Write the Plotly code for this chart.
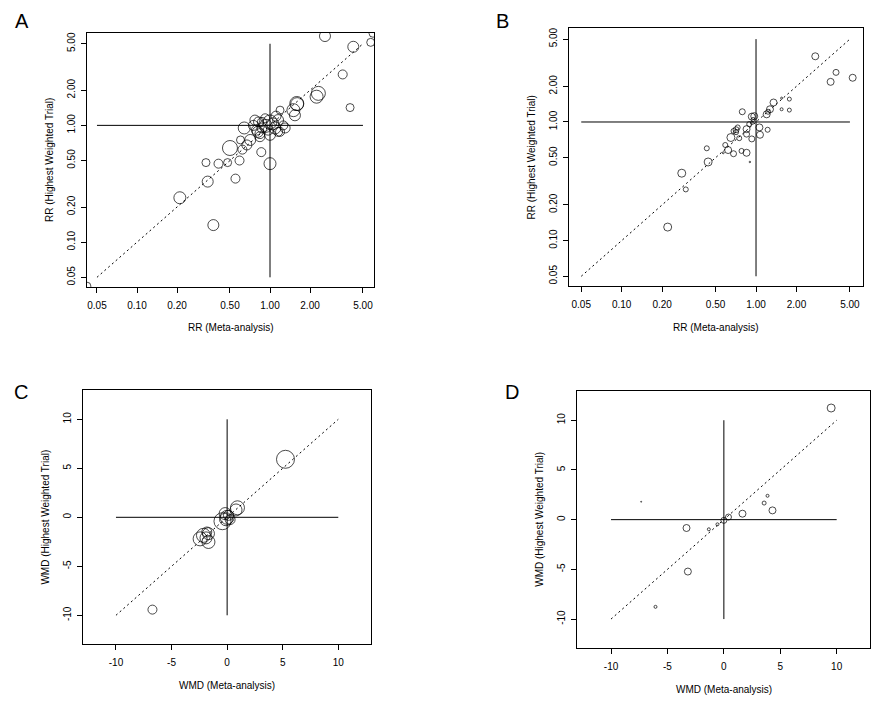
import plotly.graph_objects as go

# ---------------- data ----------------
# Panel A: RR (meta-analysis) vs RR (highest weighted trial)
a_x = [2.59, 4.23, 5.72, 5.95, 3.52, 2.31, 2.24, 4.0, 1.59, 1.50, 1.54, 1.60, 1.19, 1.26, 1.15,
       0.64, 0.75, 0.82, 0.77, 0.60, 0.71, 0.67, 0.62, 0.50, 0.84, 0.84, 0.79, 0.86, 1.0, 0.59,
       0.48, 0.41, 0.33, 0.34, 0.55, 0.21, 0.375, 0.042,
       1.0, 1.05, 0.93, 1.09, 0.97, 1.15, 0.87, 1.19, 1.0, 1.30, 0.92, 0.81, 1.11, 0.87]
a_y = [5.82, 4.71, 5.14, 6.15, 2.73, 1.88, 1.76, 1.42, 1.54, 1.35, 1.22, 1.52, 1.35, 1.0, 0.88,
       0.95, 1.0, 1.07, 1.11, 0.75, 0.75, 0.68, 0.62, 0.64, 0.85, 0.80, 0.91, 0.59, 0.47, 0.50,
       0.48, 0.47, 0.48, 0.33, 0.35, 0.24, 0.14, 0.042,
       1.07, 1.03, 0.99, 0.95, 0.91, 1.11, 0.95, 0.88, 0.83, 0.95, 1.15, 0.88, 1.20, 1.07]
a_w = [11, 11, 8, 8, 9, 14, 13, 8, 14, 13, 11, 13, 8, 9, 9,
       12, 10, 10, 10, 8, 11, 10, 9, 15, 10, 10, 10, 9, 12, 9,
       8, 9, 8, 11, 9, 12, 11, 8,
       14, 12, 13, 12, 10, 11, 10, 9, 11, 10, 9, 11, 10, 9]

# Panel B
b_x = [2.76, 3.94, 3.59, 5.24, 1.35, 1.77, 1.55, 1.55, 1.77, 1.27, 1.20, 1.23, 0.79, 0.93, 0.89,
       0.85, 1.06, 1.07, 1.22, 0.93, 0.85, 0.73, 0.68, 0.71, 0.65, 0.75, 0.59, 0.62, 0.57, 0.68,
       0.78, 0.85, 0.90, 0.43, 0.44, 0.28, 0.30, 0.22, 0.95, 0.93, 0.71, 0.97]
b_y = [3.58, 2.62, 2.18, 2.36, 1.46, 1.56, 1.59, 1.28, 1.26, 1.28, 1.16, 1.22, 1.22, 1.11, 0.96,
       0.87, 0.90, 0.78, 0.86, 0.72, 0.79, 0.90, 0.84, 0.82, 0.74, 0.73, 0.64, 0.58, 0.55, 0.54,
       0.57, 0.55, 0.46, 0.60, 0.46, 0.37, 0.27, 0.13, 1.05, 0.98, 0.86, 1.12]
b_w = [7, 6, 7, 7, 7, 4, 2, 3, 4, 7, 7, 5, 6, 7, 5,
       7, 7, 7, 5, 6, 6, 5, 5, 5, 8, 5, 5, 7, 2, 6,
       5, 7, 1.5, 5, 8, 8, 5, 8, 4, 3, 6, 7]

# Panel C: WMD
c_x = [5.25, 0.93, 0.80, -0.42, 0.0, 0.12, 0.27, -0.18, -0.1, -2.13, -1.68, -1.83, -2.43, -1.68, -1.9, -6.72]
c_y = [5.92, 0.97, 0.75, -0.40, 0.0, 0.2, -0.23, 0.38, -0.2, -1.84, -1.67, -1.5, -2.2, -2.52, -2.1, -9.42]
c_w = [18, 14, 12, 17, 14, 10, 10, 12, 13, 14, 12, 10, 14, 13, 12, 9]

# Panel D: WMD
d_x = [9.51, 4.31, 3.57, 3.87, 1.65, 0.41, 0.0, -0.57, -1.33, -3.31, -3.19, -6.06, -7.33]
d_y = [11.23, 0.93, 1.67, 2.4, 0.6, 0.26, -0.07, -0.47, -0.97, -0.84, -5.22, -8.77, 1.8]
d_w = [8, 7, 4, 3, 7, 6, 6, 3, 3, 7, 7, 3, 1]

# reference lines (from / to)
rr_ref = [0.05, 5]
rr_null = [1, 1]
wmd_ref = [-10, 10]
wmd_null = [0, 0]

rr_ticks = [0.05, 0.10, 0.20, 0.50, 1.00, 2.00, 5.00]
rr_ticktext = ["0.05", "0.10", "0.20", "0.50", "1.00", "2.00", "5.00"]
wmd_ticks = [-10, -5, 0, 5, 10]
wmd_ticktext = ["-10", "-5", "0", "5", "10"]

# ---------------- figure ----------------
W, H = 885, 704
FONT = "Liberation Sans, Arial, sans-serif"

fig = go.Figure()

panels = [
    # name, xs, ys, ws, log?, xpix, ypix(top,bottom), xrange, yrange
    ("A", a_x, a_y, a_w, True, (87, 374), (33, 287), [-1.376, 0.782], [-1.384, 0.791]),
    ("B", b_x, b_y, b_w, True, (569.3, 862.7), (28.3, 286), [-1.390, 0.794], [-1.383, 0.790]),
    ("C", c_x, c_y, c_w, False, (83.3, 371.3), (390.3, 644.3), [-12.94, 12.97], [-12.96, 12.96]),
    ("D", d_x, d_y, d_w, False, (577.3, 870.3), (390.7, 648.3), [-12.99, 12.98], [-12.94, 12.97]),
]

annotations = []
for i, (name, xs, ys, ws, islog, xp, yp, xr, yr) in enumerate(panels):
    n = "" if i == 0 else str(i + 1)
    xa, ya = "x" + n, "y" + n
    ref = rr_ref if islog else wmd_ref
    null = rr_null if islog else wmd_null
    line = dict(color="black", width=1)
    # null lines
    fig.add_trace(go.Scatter(x=ref, y=null, mode="lines", line=line, xaxis=xa, yaxis=ya,
                             showlegend=False, hoverinfo="skip"))
    fig.add_trace(go.Scatter(x=null, y=ref, mode="lines", line=line, xaxis=xa, yaxis=ya,
                             showlegend=False, hoverinfo="skip"))
    # identity line
    fig.add_trace(go.Scatter(x=ref, y=ref, mode="lines",
                             line=dict(color="black", width=1, dash="2px,3px"),
                             xaxis=xa, yaxis=ya, showlegend=False, hoverinfo="skip"))
    # points
    fig.add_trace(go.Scatter(x=xs, y=ys, mode="markers", xaxis=xa, yaxis=ya, showlegend=False,
                             marker=dict(symbol="circle-open", color="black", size=ws,
                                         line=dict(width=1, color="black"))))

    axis_common = dict(showline=True, linecolor="black", linewidth=1, mirror=True,
                       showgrid=False, zeroline=False, ticks="outside", ticklen=5,
                       tickcolor="black", tickwidth=1,
                       tickfont=dict(family=FONT, size=10, color="black"))
    xdict = dict(axis_common, domain=[xp[0] / W, xp[1] / W], anchor=ya,
                 type="log" if islog else "linear", range=xr,
                 tickvals=rr_ticks if islog else wmd_ticks,
                 ticktext=rr_ticktext if islog else wmd_ticktext,
                 ticklabelstandoff=4)
    ydict = dict(axis_common, domain=[1 - yp[1] / H, 1 - yp[0] / H], anchor=xa,
                 type="log" if islog else "linear", range=yr,
                 tickvals=rr_ticks if islog else wmd_ticks,
                 ticktext=rr_ticktext if islog else wmd_ticktext,
                 tickangle=-90, ticklabelstandoff=2)
    fig.layout["xaxis" + n] = xdict
    fig.layout["yaxis" + n] = ydict

    xt = "RR (Meta-analysis)" if islog else "WMD (Meta-analysis)"
    yt = "RR (Highest Weighted Trial)" if islog else "WMD (Highest Weighted Trial)"
    cx = (xp[0] + xp[1]) / 2
    cy = (yp[0] + yp[1]) / 2
    annotations.append(dict(text=xt, x=cx / W, y=1 - (yp[1] + 41) / H, xref="paper", yref="paper",
                            showarrow=False, xanchor="center", yanchor="middle",
                            font=dict(family=FONT, size=10, color="black")))
    annotations.append(dict(text=yt, x=(xp[0] - 38) / W, y=1 - cy / H, xref="paper", yref="paper",
                            showarrow=False, xanchor="center", yanchor="middle", textangle=-90,
                            font=dict(family=FONT, size=10, color="black")))

letters = [("A", 22, 21), ("B", 503, 21), ("C", 21, 392), ("D", 512, 392)]
for t, lx, ly in letters:
    annotations.append(dict(text=t, x=lx / W, y=1 - ly / H, xref="paper", yref="paper",
                            showarrow=False, xanchor="center", yanchor="middle",
                            font=dict(family=FONT, size=20, color="black")))

fig.update_layout(width=W, height=H, margin=dict(l=0, r=0, t=0, b=0),
                  paper_bgcolor="white", plot_bgcolor="white", hovermode=False,
                  annotations=annotations, font=dict(family=FONT, color="black"))

fig.write_html("out.html", config={"displayModeBar": False, "staticPlot": True},
               post_script="document.body.style.margin='0px';document.body.style.overflow='hidden';")
